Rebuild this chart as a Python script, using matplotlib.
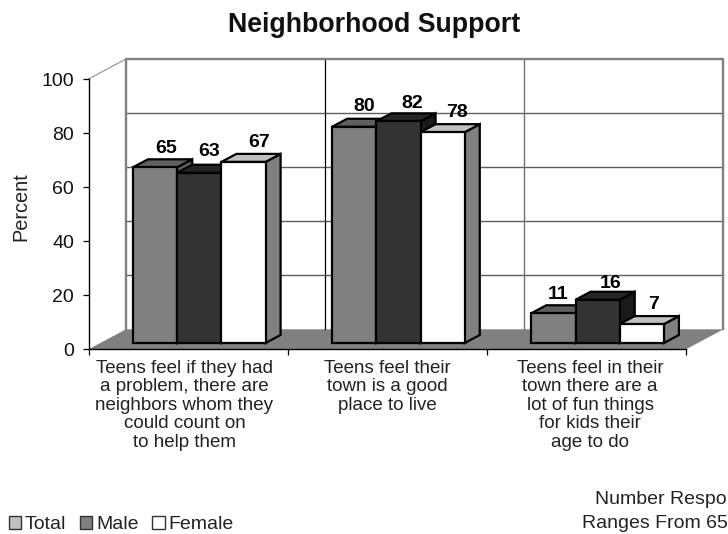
import matplotlib
matplotlib.use("Agg")
import matplotlib.pyplot as plt
from matplotlib.patches import Polygon, Patch

plt.rcParams['font.family'] = ['Liberation Sans', 'DejaVu Sans']

title = "Neighborhood Support"
categories = [
    "Teens feel if they had\na problem, there are\nneighbors whom they\ncould count on\nto help them",
    "Teens feel their\ntown is a good\nplace to live",
    "Teens feel in their\ntown there are a\nlot of fun things\nfor kids their\nage to do",
]
series_names = ["Total", "Male", "Female"]
total = [65, 80, 11]
male = [63, 82, 16]
female = [67, 78, 7]
y_ticks = [0, 20, 40, 60, 80, 100]

W, H = 728, 534
LEFT, RIGHT, BASE, TOP = 88.5, 686.0, 349.3, 79.0

fig = plt.figure(figsize=(W / 100, H / 100), dpi=100, facecolor="white")
ax = fig.add_axes([LEFT / W, (H - BASE) / H, (RIGHT - LEFT) / W, (BASE - TOP) / H])
ax.set_xlim(0, 3)
ax.set_ylim(0, 100)
ax.patch.set_visible(False)

# Pixel-to-data factors for the oblique depth of the box and the bars
PX = 3 / (RIGHT - LEFT)
PY = 100 / (BASE - TOP)
wall_dx, wall_dy = 37.5 * PX, 20 * PY
bar_dx, bar_dy = 15 * PX, 8 * PY
bar_w = 44.2 * PX
bar_start = 44.5 * PX
bar_floor = 6.3 * PY


def poly(pts, face, edge="none", lw=0.0, z=2):
    ax.add_patch(Polygon(pts, closed=True, facecolor=face, edgecolor=edge,
                         linewidth=lw, joinstyle="miter", clip_on=False, zorder=z))


# Floor
poly([(0, 0), (wall_dx, wall_dy), (3 + wall_dx, wall_dy), (3, 0)], "#808080", z=1)

# Back wall grid
for v in y_ticks[1:-1]:
    ax.plot([wall_dx, 3 + wall_dx], [v + wall_dy] * 2, color="#5f5f5f", lw=1.0,
            clip_on=False, zorder=1)
ax.plot([1 + wall_dx] * 2, [wall_dy, 100 + wall_dy], color="#000000", lw=0.9,
        clip_on=False, zorder=1)
ax.plot([2 + wall_dx] * 2, [wall_dy, 100 + wall_dy], color="#707070", lw=1.0,
        clip_on=False, zorder=1)
ax.plot([wall_dx, wall_dx, 3 + wall_dx, 3 + wall_dx],
        [wall_dy, 100 + wall_dy, 100 + wall_dy, wall_dy],
        color="#808080", lw=1.7, clip_on=False, zorder=1)
ax.plot([0, wall_dx], [100, 100 + wall_dy], color="#909090", lw=0.8,
        clip_on=False, zorder=1)

# Bars: face, top and side colours per series
styles = [("#808080", "#606060", "#606060"),
          ("#333333", "#262626", "#1a1a1a"),
          ("#ffffff", "#c0c0c0", "#808080")]
values = [total, male, female]
for g in range(3):
    for s, vals in enumerate(values):
        v = vals[g]
        x0 = g + bar_start + s * bar_w
        x1 = x0 + bar_w
        y0 = bar_floor
        y1 = bar_floor + v
        front, top_c, side = styles[s]
        poly([(x1, y0), (x1 + bar_dx, y0 + bar_dy), (x1 + bar_dx, y1 + bar_dy), (x1, y1)],
             side, "black", 1.6, z=2 + g + s * 0.1)
        poly([(x0, y1), (x0 + bar_dx, y1 + bar_dy), (x1 + bar_dx, y1 + bar_dy), (x1, y1)],
             top_c, "black", 1.6, z=2 + g + s * 0.1)
        poly([(x0, y0), (x1, y0), (x1, y1), (x0, y1)],
             front, "black", 1.6, z=2 + g + s * 0.1)

# Value labels sit above the bar tops, nudged in points where the neighbours crowd them
nudges = [[(8, 13.3), (7, 15.3), (11.5, 14.3)],
          [(7, 14.8), (10, 13), (10, 13.8)],
          [(3, 13.8), (9, 11.8), (8.5, 14)]]
for g in range(3):
    for s, vals in enumerate(values):
        v = vals[g]
        xc = g + bar_start + (s + 0.5) * bar_w
        ax.annotate(str(v), (xc, bar_floor + v), xytext=nudges[g][s],
                    textcoords="offset points", ha="center", va="center",
                    fontsize=14, fontweight="bold", color="black",
                    annotation_clip=False, zorder=10)

# Axes furniture
for side in ("top", "right"):
    ax.spines[side].set_visible(False)
for side in ("left", "bottom"):
    ax.spines[side].set_linewidth(1.0)
    ax.spines[side].set_zorder(20)
ax.set_yticks(y_ticks)
ax.tick_params(axis="y", labelsize=14, length=4.5, width=0.9, pad=6, labelcolor="#111111")
ax.set_xticks([0, 1, 2, 3], [""] * 4)
ax.tick_params(axis="x", which="major", length=4.5, width=0.9)
ax.set_xticks([0.482, 1.499, 2.518], categories, minor=True)
ax.tick_params(axis="x", which="minor", length=0, labelsize=13.5, pad=7.5,
               labelcolor="#222222")
for lab in ax.get_xminorticklabels():
    lab.set_linespacing(1.115)
    lab.set_verticalalignment("top")

fig.text(21 / W, 1 - 207 / H, "Percent", rotation=90, ha="center", va="center",
         fontsize=14.3, color="#222222")
fig.text(374 / W, 1 - 25 / H, title, ha="center", va="center", fontsize=19.3,
         fontweight="bold", color="#111111")

# Legend swatches use lighter tones than the bars
handles = [Patch(facecolor=c, edgecolor="#333333", linewidth=1.0)
           for c in ("#c0c0c0", "#808080", "#ffffff")]
fig.legend(handles, series_names, loc="lower left", bbox_to_anchor=(5 / W, -3 / H),
           ncol=3, frameon=False, fontsize=14, handlelength=0.63, handleheight=0.63,
           handletextpad=0.2, columnspacing=0.7, labelcolor="#222222",
           borderpad=0.2, borderaxespad=0.0)

# Footnote in the lower right corner
fig.text(595 / W, 1 - 500 / H, "Number Respo", ha="left", va="center", fontsize=14,
         color="#222222")
fig.text(582 / W, 1 - 523 / H, "Ranges From 65", ha="left", va="center", fontsize=14,
         color="#222222")

fig.savefig("out.png", dpi=100)
